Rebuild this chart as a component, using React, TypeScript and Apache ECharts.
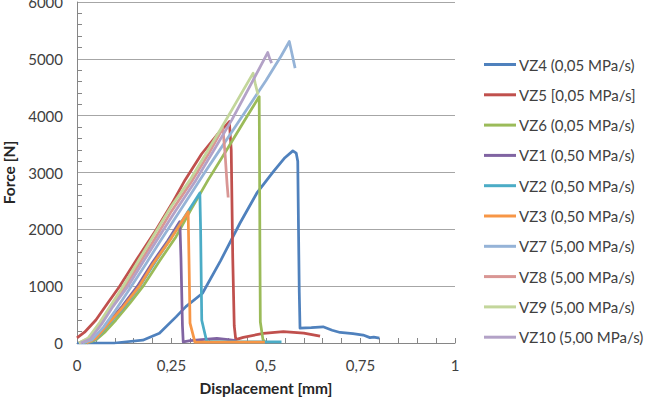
import React, { useEffect, useRef } from "react";
import * as echarts from "echarts";

// Legend labels (series order as in the reference)
const seriesNames: string[] = [
  "VZ4 (0,05 MPa/s)",
  "VZ5 [0,05 MPa/s]",
  "VZ6 (0,05 MPa/s)",
  "VZ1 (0,50 MPa/s)",
  "VZ2 (0,50 MPa/s)",
  "VZ3 (0,50 MPa/s)",
  "VZ7 (5,00 MPa/s)",
  "VZ8 (5,00 MPa/s)",
  "VZ9 (5,00 MPa/s)",
  "VZ10 (5,00 MPa/s)",
];

const seriesColors: string[] = [
  "#4F81BD", "#C0504D", "#9BBB59", "#8064A2", "#4BACC6",
  "#F79646", "#95B3D7", "#D99694", "#C3D69B", "#B3A2C7",
];

// [displacement mm, force N]
const vz4: number[][] = [
  [0, 0], [0.1, 0], [0.174, 50], [0.218, 170], [0.262, 460], [0.288, 640],
  [0.332, 875], [0.38, 1450], [0.431, 2107], [0.476, 2640], [0.52, 3020],
  [0.55, 3260], [0.571, 3380], [0.58, 3340], [0.584, 3200], [0.586, 2000],
  [0.588, 900], [0.59, 260], [0.62, 270], [0.651, 285], [0.675, 225],
  [0.696, 185], [0.73, 165], [0.757, 140], [0.775, 95], [0.785, 105], [0.8, 85],
];
const vz5: number[][] = [
  [0, 90], [0.02, 190], [0.05, 405], [0.08, 690], [0.112, 991], [0.16, 1490],
  [0.209, 1989], [0.25, 2440], [0.286, 2870], [0.33, 3330], [0.37, 3660],
  [0.403, 3896], [0.408, 3400], [0.412, 1500], [0.416, 300], [0.42, 60],
  [0.44, 100], [0.493, 170], [0.546, 200], [0.6, 175], [0.643, 120],
];
const vz6: number[][] = [
  [0.02, 0], [0.035, 20], [0.05, 53], [0.075, 200], [0.103, 405], [0.14, 700],
  [0.174, 991], [0.22, 1460], [0.262, 1871], [0.3, 2330], [0.347, 2870],
  [0.4, 3440], [0.45, 3990], [0.482, 4336], [0.483, 3000], [0.484, 1500],
  [0.485, 370], [0.492, 60], [0.497, 20],
];
const vz1: number[][] = [
  [0.025, 0], [0.05, 90], [0.08, 340], [0.12, 650], [0.16, 1000], [0.2, 1420],
  [0.24, 1800], [0.272, 2136], [0.275, 1500], [0.279, 300], [0.281, 20],
  [0.3, 40], [0.33, 60], [0.37, 80], [0.4, 60], [0.42, 40],
];
const vz2: number[][] = [
  [0.025, 0], [0.05, 70], [0.08, 300], [0.12, 600], [0.165, 990], [0.21, 1460],
  [0.26, 1960], [0.3, 2380], [0.325, 2640], [0.327, 2000], [0.33, 400],
  [0.343, 30], [0.4, 20], [0.5, 20], [0.541, 20],
];
const vz3: number[][] = [
  [0.025, 0], [0.05, 80], [0.08, 320], [0.12, 620], [0.165, 1000], [0.2, 1380],
  [0.25, 1850], [0.294, 2311], [0.297, 1200], [0.299, 350], [0.312, 15],
  [0.4, 15], [0.497, 15],
];
const vz7: number[][] = [
  [0.015, 0], [0.04, 60], [0.07, 280], [0.1, 560], [0.14, 960], [0.18, 1370],
  [0.22, 1790], [0.26, 2200], [0.3, 2610], [0.34, 3020], [0.38, 3420],
  [0.42, 3820], [0.46, 4220], [0.5, 4620], [0.54, 5050], [0.5617, 5305],
  [0.577, 4836],
];
const vz8: number[][] = [
  [0.005, 0], [0.03, 80], [0.06, 330], [0.09, 640], [0.128, 1000], [0.17, 1450],
  [0.21, 1880], [0.25, 2320], [0.306, 2870], [0.35, 3350], [0.386, 3780],
  [0.392, 3300], [0.397, 2800], [0.4, 2560],
];
const vz9: number[][] = [
  [0.005, 0], [0.03, 90], [0.06, 360], [0.09, 670], [0.122, 1000], [0.16, 1420],
  [0.2, 1860], [0.25, 2410], [0.299, 2870], [0.34, 3320], [0.38, 3760],
  [0.42, 4220], [0.466, 4748], [0.472, 4550], [0.479, 4370],
];
const vz10: number[][] = [
  [0.01, 0], [0.035, 70], [0.065, 330], [0.095, 640], [0.135, 1000], [0.18, 1480],
  [0.22, 1900], [0.26, 2320], [0.315, 2870], [0.36, 3370], [0.41, 3930],
  [0.46, 4550], [0.5045, 5111], [0.51, 5000], [0.515, 4924],
];

const seriesData: number[][][] = [vz4, vz5, vz6, vz1, vz2, vz3, vz7, vz8, vz9, vz10];

const FONT = "Lato, 'Open Sans', sans-serif";

export default function App() {
  const ref = useRef<HTMLDivElement>(null);
  useEffect(() => {
    if (!ref.current) return;
    const chart = echarts.init(ref.current, undefined, { renderer: "svg" });
    chart.setOption({
      animation: false,
      textStyle: { fontFamily: FONT },
      grid: { left: 77, right: 192, top: 2, bottom: 60, containLabel: false, outerBoundsMode: "none" },
      legend: {
        orient: "vertical",
        left: 484,
        top: 57,
        padding: 0,
        icon: "rect",
        itemWidth: 32,
        itemHeight: 3,
        itemGap: 15.3,
        textStyle: { fontFamily: FONT, fontSize: 15, color: "#404040", padding: [0, 0, 0, -2] },
        data: seriesNames,
      },
      xAxis: {
        type: "value",
        min: 0,
        max: 1,
        interval: 0.25,
        name: "Displacement [mm]",
        nameLocation: "middle",
        nameGap: 37,
        nameTextStyle: { fontFamily: FONT, fontSize: 15.5, fontWeight: "bold", color: "#262626" },
        axisLine: { show: true, onZero: false, lineStyle: { color: "#868686", width: 1 } },
        axisTick: { show: true, inside: true, length: 5, lineStyle: { color: "#868686" } },
        minorTick: { show: true, splitNumber: 5, length: 5, lineStyle: { color: "#868686" } },
        axisLabel: {
          fontFamily: FONT,
          fontSize: 15,
          color: "#404040",
          margin: 14,
          formatter: (v: number) => (v === 0 ? "0" : v === 1 ? "1" : String(v).replace(".", ",")),
        },
        splitLine: { show: false },
      },
      yAxis: {
        type: "value",
        min: 0,
        max: 6000,
        interval: 1000,
        name: "Force [N]",
        nameLocation: "middle",
        nameGap: 46,
        nameTextStyle: { fontFamily: FONT, fontSize: 15.5, fontWeight: "bold", color: "#262626" },
        axisLine: { show: true, lineStyle: { color: "#868686", width: 1 } },
        axisTick: { show: false, inside: true },
        minorTick: { show: true, splitNumber: 5, length: 5, lineStyle: { color: "#868686" } },
        axisLabel: {
          fontFamily: FONT,
          fontSize: 15,
          color: "#404040",
          margin: 14,
          formatter: (v: number) => String(v),
        },
        splitLine: { show: true, lineStyle: { color: "#A6A6A6", width: 1 } },
      },
      series: seriesNames.map((name, i) => ({
        name,
        type: "line",
        data: seriesData[i],
        symbol: "none",
        smooth: false,
        color: seriesColors[i],
        lineStyle: { width: 2.75, color: seriesColors[i], join: "round" },
      })),
    });
    return () => chart.dispose();
  }, []);
  return <div ref={ref} style={{ width: 647, height: 403, position: "absolute", left: 0, top: 0 }} />;
}
